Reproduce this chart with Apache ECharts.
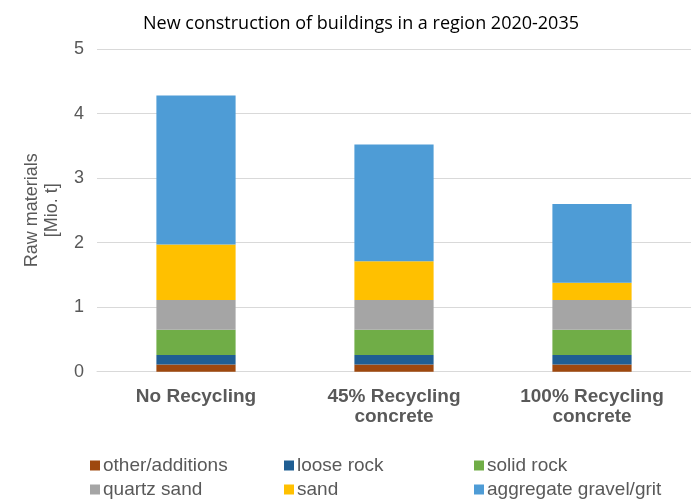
<!DOCTYPE html>
<html>
<head>
<meta charset="utf-8">
<script src="https://cdn.jsdelivr.net/npm/echarts@6/dist/echarts.min.js"></script>
<style>
  html, body { margin: 0; padding: 0; background: #fff; }
  #chart { width: 691px; height: 504px; }
</style>
</head>
<body>
<div id="chart"></div>
<script>
// Scenarios on the x axis
const categories = ['No Recycling', '45% Recycling\nconcrete', '100% Recycling\nconcrete'];

// Raw material demand per scenario [Mio. t], stacked bottom to top
const otherAdditions = [0.11, 0.11, 0.11];
const looseRock = [0.15, 0.15, 0.15];
const solidRock = [0.39, 0.39, 0.39];
const quartzSand = [0.46, 0.46, 0.46];
const sand = [0.86, 0.60, 0.27];
const aggregateGravel = [2.31, 1.81, 1.22];

const yTicks = [0, 1, 2, 3, 4, 5];

const seriesDefs = [
  { name: 'other/additions', data: otherAdditions, color: '#9E480E' },
  { name: 'loose rock', data: looseRock, color: '#1F5E93' },
  { name: 'solid rock', data: solidRock, color: '#70AD47' },
  { name: 'quartz sand', data: quartzSand, color: '#A5A5A5' },
  { name: 'sand', data: sand, color: '#FFC000' },
  { name: 'aggregate gravel/grit', data: aggregateGravel, color: '#4E9CD6' }
];

const textColor = '#595959';
const font = 'Liberation Sans, Arial, sans-serif';

const legendBase = {
  orient: 'vertical',
  top: 456,
  icon: 'rect',
  itemWidth: 10,
  itemHeight: 10,
  itemGap: 5,
  padding: 0,
  selectedMode: false,
  textStyle: { color: textColor, fontSize: 19, fontFamily: font, padding: [0, 0, 0, -2] }
};

const chart = echarts.init(document.getElementById('chart'), null, { renderer: 'canvas' });
chart.setOption({
  animation: false,
  backgroundColor: '#fff',
  title: {
    text: 'New construction of buildings in a region 2020-2035',
    left: 356,
    textAlign: 'center',
    top: 10,
    textStyle: { color: '#000', fontSize: 18, fontWeight: 'normal', fontFamily: 'Open Sans, sans-serif' }
  },
  legend: [
    Object.assign({}, legendBase, { left: 90, data: ['other/additions', 'quartz sand'] }),
    Object.assign({}, legendBase, { left: 284, data: ['loose rock', 'sand'] }),
    Object.assign({}, legendBase, { left: 474, data: ['solid rock', 'aggregate gravel/grit'] })
  ],
  grid: { left: 97, top: 49, width: 597, height: 322.7, containLabel: false },
  xAxis: {
    type: 'category',
    data: categories,
    axisLine: { show: true, lineStyle: { color: '#D9D9D9', width: 1 } },
    axisTick: { show: false },
    axisLabel: {
      color: textColor,
      fontSize: 19,
      fontWeight: 'bold',
      fontFamily: font,
      lineHeight: 20,
      margin: 15,
      interval: 0
    }
  },
  yAxis: {
    type: 'value',
    min: yTicks[0],
    max: yTicks[yTicks.length - 1],
    interval: 1,
    name: 'Raw materials\n[Mio. t]',
    nameLocation: 'middle',
    nameGap: 35,
    nameTextStyle: { color: textColor, fontSize: 18, fontFamily: font, lineHeight: 20 },
    axisLine: { show: false },
    axisTick: { show: false },
    axisLabel: { color: textColor, fontSize: 18, fontFamily: font, margin: 13 },
    splitLine: { lineStyle: { color: '#D9D9D9', width: 1 } }
  },
  series: seriesDefs.map(s => ({
    name: s.name,
    type: 'bar',
    stack: 'total',
    barWidth: '40%',
    data: s.data,
    itemStyle: { color: s.color },
    emphasis: { disabled: true }
  }))
});
</script>
</body>
</html>
